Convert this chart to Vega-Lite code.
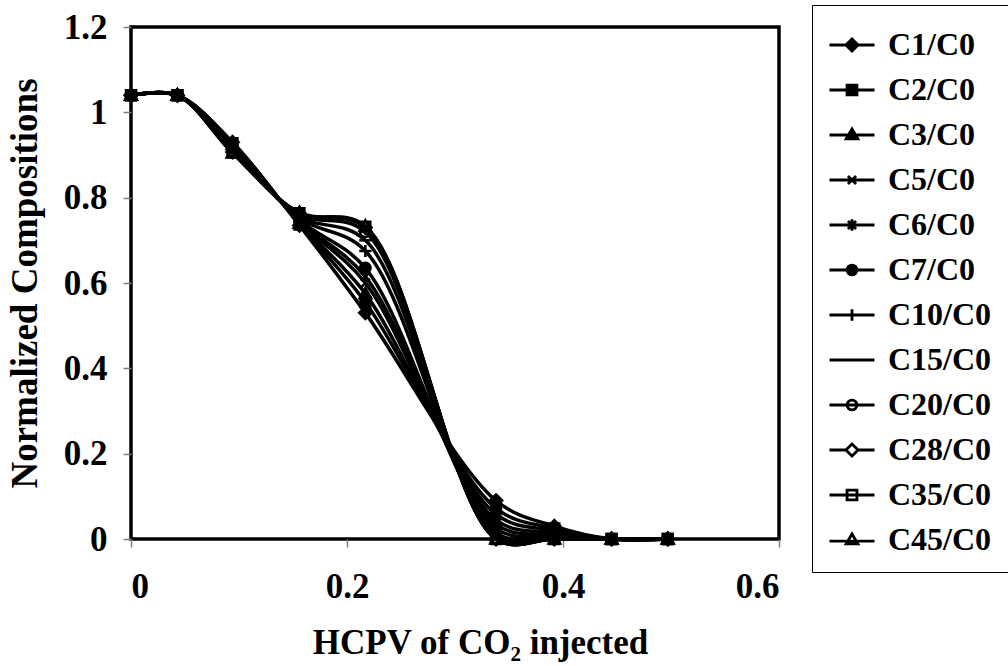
{
  "$schema": "https://vega.github.io/schema/vega-lite/v6.json",
  "width": 648,
  "height": 512,
  "autosize": "none",
  "padding": {"left": 131, "top": 27, "right": 229, "bottom": 127},
  "background": "white",
  "config": {
    "font": "Liberation Serif",
    "view": {"stroke": "black", "strokeWidth": 3.5},
    "axis": {
      "grid": false,
      "domain": false,
      "tickColor": "#808080",
      "tickWidth": 1.5,
      "tickSize": 8,
      "labelFont": "Liberation Serif",
      "labelFontWeight": "bold",
      "labelFontSize": 35,
      "labelColor": "black",
      "titleFont": "Liberation Serif",
      "titleFontWeight": "bold",
      "titleFontSize": 35,
      "titleColor": "black"
    }
  },
  "data": {"values": [
    {"s":"C1/C0","x":0,"y":1.04},{"s":"C1/C0","x":0.043,"y":1.04},{"s":"C1/C0","x":0.094,"y":0.93},{"s":"C1/C0","x":0.156,"y":0.735},{"s":"C1/C0","x":0.217,"y":0.53},{"s":"C1/C0","x":0.338,"y":0.09},{"s":"C1/C0","x":0.392,"y":0.03},{"s":"C1/C0","x":0.445,"y":0},{"s":"C1/C0","x":0.497,"y":0},
    {"s":"C2/C0","x":0,"y":1.04},{"s":"C2/C0","x":0.043,"y":1.04},{"s":"C2/C0","x":0.094,"y":0.928},{"s":"C2/C0","x":0.156,"y":0.737},{"s":"C2/C0","x":0.217,"y":0.555},{"s":"C2/C0","x":0.338,"y":0.072},{"s":"C2/C0","x":0.392,"y":0.025},{"s":"C2/C0","x":0.445,"y":0},{"s":"C2/C0","x":0.497,"y":0},
    {"s":"C3/C0","x":0,"y":1.04},{"s":"C3/C0","x":0.043,"y":1.04},{"s":"C3/C0","x":0.094,"y":0.925},{"s":"C3/C0","x":0.156,"y":0.74},{"s":"C3/C0","x":0.217,"y":0.575},{"s":"C3/C0","x":0.338,"y":0.058},{"s":"C3/C0","x":0.392,"y":0.02},{"s":"C3/C0","x":0.445,"y":0},{"s":"C3/C0","x":0.497,"y":0},
    {"s":"C5/C0","x":0,"y":1.04},{"s":"C5/C0","x":0.043,"y":1.04},{"s":"C5/C0","x":0.094,"y":0.922},{"s":"C5/C0","x":0.156,"y":0.742},{"s":"C5/C0","x":0.217,"y":0.6},{"s":"C5/C0","x":0.338,"y":0.045},{"s":"C5/C0","x":0.392,"y":0.015},{"s":"C5/C0","x":0.445,"y":0},{"s":"C5/C0","x":0.497,"y":0},
    {"s":"C6/C0","x":0,"y":1.04},{"s":"C6/C0","x":0.043,"y":1.04},{"s":"C6/C0","x":0.094,"y":0.92},{"s":"C6/C0","x":0.156,"y":0.745},{"s":"C6/C0","x":0.217,"y":0.615},{"s":"C6/C0","x":0.338,"y":0.035},{"s":"C6/C0","x":0.392,"y":0.01},{"s":"C6/C0","x":0.445,"y":0},{"s":"C6/C0","x":0.497,"y":0},
    {"s":"C7/C0","x":0,"y":1.04},{"s":"C7/C0","x":0.043,"y":1.04},{"s":"C7/C0","x":0.094,"y":0.918},{"s":"C7/C0","x":0.156,"y":0.748},{"s":"C7/C0","x":0.217,"y":0.635},{"s":"C7/C0","x":0.338,"y":0.025},{"s":"C7/C0","x":0.392,"y":0.007},{"s":"C7/C0","x":0.445,"y":0},{"s":"C7/C0","x":0.497,"y":0},
    {"s":"C10/C0","x":0,"y":1.04},{"s":"C10/C0","x":0.043,"y":1.04},{"s":"C10/C0","x":0.094,"y":0.915},{"s":"C10/C0","x":0.156,"y":0.752},{"s":"C10/C0","x":0.217,"y":0.675},{"s":"C10/C0","x":0.338,"y":0.015},{"s":"C10/C0","x":0.392,"y":0.004},{"s":"C10/C0","x":0.445,"y":0},{"s":"C10/C0","x":0.497,"y":0},
    {"s":"C15/C0","x":0,"y":1.04},{"s":"C15/C0","x":0.043,"y":1.04},{"s":"C15/C0","x":0.094,"y":0.912},{"s":"C15/C0","x":0.156,"y":0.756},{"s":"C15/C0","x":0.217,"y":0.7},{"s":"C15/C0","x":0.338,"y":0.008},{"s":"C15/C0","x":0.392,"y":0.002},{"s":"C15/C0","x":0.445,"y":0},{"s":"C15/C0","x":0.497,"y":0},
    {"s":"C20/C0","x":0,"y":1.04},{"s":"C20/C0","x":0.043,"y":1.04},{"s":"C20/C0","x":0.094,"y":0.91},{"s":"C20/C0","x":0.156,"y":0.76},{"s":"C20/C0","x":0.217,"y":0.72},{"s":"C20/C0","x":0.338,"y":0.003},{"s":"C20/C0","x":0.392,"y":0},{"s":"C20/C0","x":0.445,"y":0},{"s":"C20/C0","x":0.497,"y":0},
    {"s":"C28/C0","x":0,"y":1.04},{"s":"C28/C0","x":0.043,"y":1.04},{"s":"C28/C0","x":0.094,"y":0.907},{"s":"C28/C0","x":0.156,"y":0.763},{"s":"C28/C0","x":0.217,"y":0.73},{"s":"C28/C0","x":0.338,"y":0},{"s":"C28/C0","x":0.392,"y":0},{"s":"C28/C0","x":0.445,"y":0},{"s":"C28/C0","x":0.497,"y":0},
    {"s":"C35/C0","x":0,"y":1.04},{"s":"C35/C0","x":0.043,"y":1.04},{"s":"C35/C0","x":0.094,"y":0.906},{"s":"C35/C0","x":0.156,"y":0.764},{"s":"C35/C0","x":0.217,"y":0.732},{"s":"C35/C0","x":0.338,"y":0},{"s":"C35/C0","x":0.392,"y":0},{"s":"C35/C0","x":0.445,"y":0},{"s":"C35/C0","x":0.497,"y":0},
    {"s":"C45/C0","x":0,"y":1.04},{"s":"C45/C0","x":0.043,"y":1.04},{"s":"C45/C0","x":0.094,"y":0.905},{"s":"C45/C0","x":0.156,"y":0.765},{"s":"C45/C0","x":0.217,"y":0.733},{"s":"C45/C0","x":0.338,"y":0},{"s":"C45/C0","x":0.392,"y":0},{"s":"C45/C0","x":0.445,"y":0},{"s":"C45/C0","x":0.497,"y":0}
  ]},
  "encoding": {
    "x": {"field": "x", "type": "quantitative",
      "scale": {"domain": [0, 0.6], "nice": false},
      "axis": {"values": [0, 0.2, 0.4, 0.6], "format": "~g", "labelPadding": 22,
        "title": "HCPV of CO₂ injected", "titleX": 349, "titleY": 86}},
    "y": {"field": "y", "type": "quantitative",
      "scale": {"domain": [0, 1.2], "nice": false},
      "axis": {"values": [0, 0.2, 0.4, 0.6, 0.8, 1, 1.2], "format": "~g", "labelPadding": 16,
        "title": "Normalized Compositions", "titleFontSize": 37, "titleX": -106, "titleY": 256, "titleBaseline": "middle"}}
  },
  "layer": [
    {
      "mark": {"type": "line", "interpolate": "catmull-rom", "color": "black", "strokeWidth": 3.5},
      "encoding": {"detail": {"field": "s"}}
    },
    {
      "mark": {"type": "point", "stroke": "black", "strokeWidth": 2.5, "opacity": 1, "size": 150},
      "encoding": {
        "shape": {"field": "s", "type": "nominal", "legend": null,
          "scale": {"domain": ["C1/C0","C2/C0","C3/C0","C5/C0","C6/C0","C7/C0","C10/C0","C15/C0","C20/C0","C28/C0","C35/C0","C45/C0"],
            "range": [
              "M0,-1L1,0L0,1L-1,0Z",
              "M-0.8,-0.8H0.8V0.8H-0.8Z",
              "M0,-0.95L0.95,0.75H-0.95Z",
              "M-0.7,-0.7L0.7,0.7M-0.7,0.7L0.7,-0.7",
              "M-0.7,-0.7L0.7,0.7M-0.7,0.7L0.7,-0.7M0,-1V1",
              "M0.85,0A0.85,0.85 0 1,1 -0.85,0A0.85,0.85 0 1,1 0.85,0Z",
              "M-1,0H1M0,-1V1",
              "M-1,0H1",
              "M0.85,0A0.85,0.85 0 1,1 -0.85,0A0.85,0.85 0 1,1 0.85,0Z",
              "M0,-1L1,0L0,1L-1,0Z",
              "M-0.8,-0.8H0.8V0.8H-0.8Z",
              "M0,-0.95L0.95,0.75H-0.95Z"
            ]}},
        "fill": {"field": "s", "type": "nominal", "legend": null,
          "scale": {"domain": ["C1/C0","C2/C0","C3/C0","C5/C0","C6/C0","C7/C0","C10/C0","C15/C0","C20/C0","C28/C0","C35/C0","C45/C0"],
            "range": ["black","black","black","black","black","black","black","black","transparent","transparent","transparent","transparent"]}}
      }
    },
    {
      "mark": {"type": "point", "stroke": "black", "strokeWidth": 3, "opacity": 0, "size": 10},
      "encoding": {
        "shape": {"field": "s", "type": "nominal",
          "scale": {"domain": ["C1/C0","C2/C0","C3/C0","C5/C0","C6/C0","C7/C0","C10/C0","C15/C0","C20/C0","C28/C0","C35/C0","C45/C0"],
            "range": [
              "M-1,0H1M0,-0.27L0.27,0L0,0.27L-0.27,0Z",
              "M-1,0H1M-0.22,-0.22H0.22V0.22H-0.22Z",
              "M-1,0H1M0,-0.27L0.26,0.17H-0.26Z",
              "M-1,0H1M-0.18,-0.18L0.18,0.18M-0.18,0.18L0.18,-0.18",
              "M-1,0H1M-0.18,-0.18L0.18,0.18M-0.18,0.18L0.18,-0.18M0,-0.26V0.26",
              "M-1,0H1M0.22,0A0.22,0.22 0 1,1 -0.22,0A0.22,0.22 0 1,1 0.22,0Z",
              "M-1,0H1M0,-0.26V0.26",
              "M-1,0H1",
              "M-1,0H1M0.22,0A0.22,0.22 0 1,1 -0.22,0A0.22,0.22 0 1,1 0.22,0Z",
              "M-1,0H-0.27M0.27,0H1M0,-0.27L0.27,0L0,0.27L-0.27,0Z",
              "M-1,0H1M-0.22,-0.22H0.22V0.22H-0.22Z",
              "M-1,0.05H1M0,-0.27L0.26,0.17H-0.26Z"
            ]},
          "legend": {"title": null, "orient": "none", "legendX": 681, "legendY": -22,
            "padding": 16, "strokeColor": "black", "fillColor": "white",
            "labelFont": "Liberation Serif", "labelFontWeight": "bold", "labelFontSize": 32, "labelColor": "black",
            "labelOffset": 12, "labelLimit": 0, "rowPadding": 5,
            "symbolSize": 2025, "symbolStrokeWidth": 3, "symbolStrokeColor": "black", "symbolOpacity": 1,
            "encode": {"symbols": {"update": {"opacity": {"value": 1}, "stroke": {"value": "black"}, "strokeWidth": {"value": 2.8}, "size": {"value": 2025}, "strokeOpacity": {"value": 1}, "fillOpacity": {"value": 1}}}}}},
        "fill": {"field": "s", "type": "nominal",
          "scale": {"domain": ["C1/C0","C2/C0","C3/C0","C5/C0","C6/C0","C7/C0","C10/C0","C15/C0","C20/C0","C28/C0","C35/C0","C45/C0"],
            "range": ["black","black","black","black","black","black","black","black","white","white","white","white"]},
          "legend": {"title": null, "orient": "none", "legendX": 681, "legendY": -22,
            "padding": 16, "strokeColor": "black", "fillColor": "white",
            "labelFont": "Liberation Serif", "labelFontWeight": "bold", "labelFontSize": 32, "labelColor": "black",
            "labelOffset": 12, "labelLimit": 0, "rowPadding": 5,
            "symbolSize": 2025, "symbolStrokeWidth": 3, "symbolStrokeColor": "black", "symbolOpacity": 1,
            "encode": {"symbols": {"update": {"opacity": {"value": 1}, "stroke": {"value": "black"}, "strokeWidth": {"value": 2.8}, "size": {"value": 2025}, "strokeOpacity": {"value": 1}, "fillOpacity": {"value": 1}}}}}}
      }
    }
  ],
  "resolve": {"scale": {"shape": "independent", "fill": "independent"}}
}
